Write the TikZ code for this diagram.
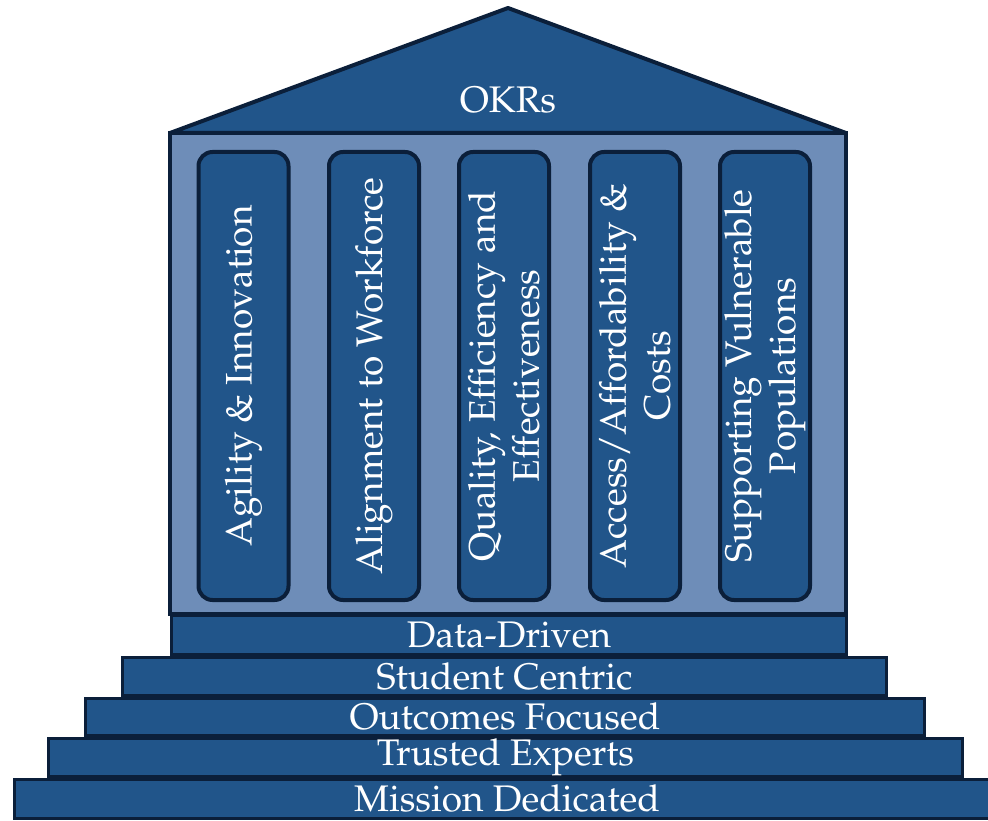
\documentclass[tikz,border=0pt]{standalone}
\usepackage[T1]{fontenc}
\usepackage{mathpazo}
\usepackage{tikz}
\usetikzlibrary{positioning}
\definecolor{okrnavy}{HTML}{0B1F3A}
\definecolor{okrblue}{HTML}{21558A}
\definecolor{okrpale}{HTML}{6E8DB8}
\tikzset{%
  stair/.style={%
    draw=okrnavy,
    line width=3.5pt,
    fill=okrblue,
    text=white,
    inner sep=0pt,
    font=\fontsize{37}{44}\selectfont
  }
}
\tikzset{%
  pillar/.style={%
    draw=okrnavy,
    line width=4pt,
    fill=okrblue,
    text=white,
    rounded corners=14pt,
    rotate=90,
    minimum width=448pt,
    minimum height=90pt,
    inner sep=0pt,
    align=center,
    font=\fontsize{37}{44}\selectfont
  }
}

\begin{document}
\begin{tikzpicture}[x=1pt,y=-1pt]
  \useasboundingbox (0,0) rectangle (988,821);
  % hall and roof
  \draw [draw=okrnavy,line width=4pt,fill=okrpale] (170,133) rectangle (846,614);
  \draw [draw=okrnavy,line width=4pt,fill=okrblue,line join=round]
    (170,133) -- (508,8) -- (846,133) -- cycle;
  \node (okrs) [text=white,font=\fontsize{37}{44}\selectfont] at (508,100) {OKRs};
  % pillars
  \node (agility) [pillar] at (243.5,376) {Agility \& Innovation};
  \node (workforce) [pillar] at (374,376) {Alignment to Workforce};
  \node (quality) [pillar] at (504,376) {Quality, Efficiency and\\Effectiveness};
  \node (access) [pillar] at (635,376) {Access/Affordability \&\\Costs};
  \node (vulnerable) [pillar] at (765,376) {Supporting Vulnerable\\Populations};
  % steps
  \node (data) [stair,minimum width=675pt,minimum height=39pt] at (509,635) {Data-Driven};
  \node (student) [stair,minimum width=764pt,minimum height=38pt] at (504.5,676.5) {Student Centric};
  \node (outcomes) [stair,minimum width=839pt,minimum height=37pt] at (505,717) {Outcomes Focused};
  \node (trusted) [stair,minimum width=914pt,minimum height=38pt] at (505.5,757.5) {Trusted Experts};
  \node (mission) [stair,minimum width=985pt,minimum height=39pt] at (507,799) {Mission Dedicated};
\end{tikzpicture}
\end{document}
